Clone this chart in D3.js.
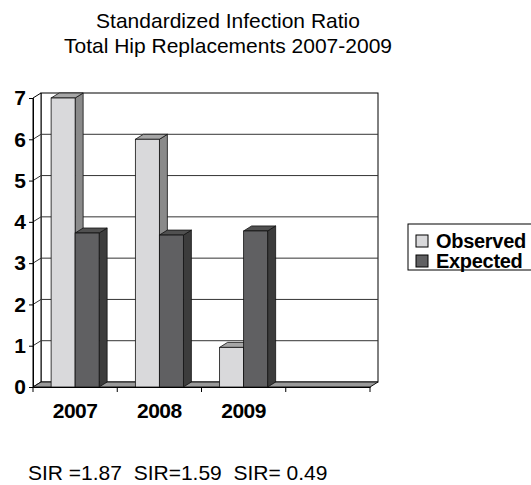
<!DOCTYPE html>
<html>
<head>
<meta charset="utf-8">
<script src="https://cdn.jsdelivr.net/npm/d3@7"></script>
<style>
  body { margin: 0; background: #fff; overflow: hidden; }
  text { font-family: "Liberation Sans", Arial, sans-serif; white-space: pre; }
</style>
</head>
<body>
<div id="chart"></div>
<script>
const years = ["2007", "2008", "2009", ""];
const seriesNames = ["Observed", "Expected"];
const observed = [7, 6, 0.96];
const expected = [3.73, 3.68, 3.78];
const yTicks = [0, 1, 2, 3, 4, 5, 6, 7];
const titleLines = ["Standardized Infection Ratio", "Total Hip Replacements 2007-2009"];
const note = "SIR =1.87  SIR=1.59  SIR= 0.49";

const width = 531;
const height = 485;
const dx = 8, dy = -5; // depth offset of the 3d look

const colors = {
    Observed: { front: "#d9d9db", top: "#a6a6a6", side: "#8a8a8a" },
    Expected: { front: "#606062", top: "#505050", side: "#3c3c3c" }
};

const svg = d3.select("#chart")
    .append("svg")
        .attr("width", width)
        .attr("height", height);

const x = d3.scaleBand()
    .domain(years)
    .range([33, 370]);

const x1 = d3.scaleBand()
    .domain(seriesNames)
    .range([x.bandwidth() * 0.215, x.bandwidth() * 0.785]);

const y = d3.scaleLinear()
    .domain([0, 7])
    .range([387, 98]);

const x0 = x.range()[0], xEnd = x.range()[1];
const y0 = y(0), yTop = y(7);

// title
svg.append("g")
    .selectAll("text")
    .data(titleLines)
    .join("text")
        .attr("x", 228)
        .attr("y", (d, i) => 28 + i * 25)
        .attr("text-anchor", "middle")
        .attr("font-size", "21px")
        .text(d => d);

// back wall
svg.append("rect")
    .attr("x", x0 + dx)
    .attr("y", yTop + dy)
    .attr("width", xEnd - x0)
    .attr("height", y0 - yTop)
    .attr("fill", "#fff")
    .attr("stroke", "#000");

// side wall
svg.append("path")
    .attr("d", `M${x0},${y0}L${x0},${yTop}L${x0 + dx},${yTop + dy}L${x0 + dx},${y0 + dy}Z`)
    .attr("fill", "#fff")
    .attr("stroke", "#000");

// gridlines
const grid = svg.append("g");
grid.selectAll("path")
    .data(yTicks.filter(d => d > 0 && d < 7))
    .join("path")
        .attr("d", d => `M${x0},${y(d)}L${x0 + dx},${y(d) + dy}L${xEnd + dx},${y(d) + dy}`)
        .attr("fill", "none")
        .attr("stroke", "#333")
        .attr("stroke-width", 1);

// floor
svg.append("path")
    .attr("d", `M${x0},${y0}L${xEnd},${y0}L${xEnd + dx},${y0 + dy}L${x0 + dx},${y0 + dy}Z`)
    .attr("fill", "#9a9a9a")
    .attr("stroke", "#111");

// bars
const rows = years.slice(0, 3).map((yr, i) => ({ year: yr, values: [observed[i], expected[i]] }));

const groups = svg.append("g")
    .selectAll("g")
    .data(rows)
    .join("g")
        .attr("transform", d => `translate(${x(d.year)},0)`);

const bars = groups.selectAll("g")
    .data(d => d.values.map((v, j) => ({ key: seriesNames[j], value: v })))
    .join("g");

bars.append("path") // side
    .attr("d", d => {
        const bx = x1(d.key) + x1.bandwidth(), t = y(d.value);
        return `M${bx},${y0}L${bx},${t}L${bx + dx},${t + dy}L${bx + dx},${y0 + dy}Z`;
    })
    .attr("fill", d => colors[d.key].side)
    .attr("stroke", "#111")
    .attr("stroke-width", 0.8);

bars.append("path") // top
    .attr("d", d => {
        const bx = x1(d.key), w = x1.bandwidth(), t = y(d.value);
        return `M${bx},${t}L${bx + w},${t}L${bx + w + dx},${t + dy}L${bx + dx},${t + dy}Z`;
    })
    .attr("fill", d => colors[d.key].top)
    .attr("stroke", "#111")
    .attr("stroke-width", 0.8);

bars.append("rect") // front
    .attr("x", d => x1(d.key))
    .attr("y", d => y(d.value))
    .attr("width", x1.bandwidth())
    .attr("height", d => y0 - y(d.value))
    .attr("fill", d => colors[d.key].front)
    .attr("stroke", "#111")
    .attr("stroke-width", 0.8);

// y axis
const yAxis = svg.append("g")
    .attr("transform", `translate(${x0},0)`)
    .call(d3.axisLeft(y).tickValues(yTicks).tickSize(4).tickPadding(3).tickFormat(d3.format("d")));
yAxis.select(".domain").attr("stroke", "#000");
yAxis.selectAll("text")
    .attr("font-family", "'Liberation Sans', Arial, sans-serif")
    .attr("font-size", "21px")
    .attr("font-weight", "bold")
    .attr("fill", "#000");

// x axis
const xAxis = svg.append("g")
    .attr("transform", `translate(0,${y0})`)
    .call(d3.axisBottom(x).tickSize(0).tickPadding(16));
xAxis.select(".domain").attr("stroke", "#000");
xAxis.selectAll("text")
    .attr("font-family", "'Liberation Sans', Arial, sans-serif")
    .attr("font-size", "21px")
    .attr("font-weight", "bold")
    .attr("letter-spacing", "-0.5px")
    .attr("fill", "#000");
xAxis.selectAll(".edge")
    .data(years.map(d => x(d)).concat([xEnd]))
    .join("line")
        .attr("class", "edge")
        .attr("x1", d => d).attr("x2", d => d)
        .attr("y1", 0).attr("y2", 5)
        .attr("stroke", "#000");

// legend
const legend = svg.append("g")
    .attr("transform", "translate(408,224)");
legend.append("rect")
    .attr("width", 140)
    .attr("height", 46)
    .attr("fill", "#fff")
    .attr("stroke", "#000");
const items = legend.selectAll("g")
    .data(seriesNames)
    .join("g")
        .attr("transform", (d, i) => `translate(8,${11 + i * 20})`);
items.append("rect")
    .attr("width", 12)
    .attr("height", 12)
    .attr("fill", d => colors[d].front)
    .attr("stroke", "#000");
items.append("text")
    .attr("x", 20)
    .attr("y", 13)
    .attr("font-size", "20px")
    .attr("font-weight", "bold")
    .attr("letter-spacing", "-0.3px")
    .text(d => d);

// SIR note
svg.append("text")
    .attr("x", 28)
    .attr("y", 480)
    .attr("font-size", "21px")
    .text(note);
</script>
</body>
</html>
